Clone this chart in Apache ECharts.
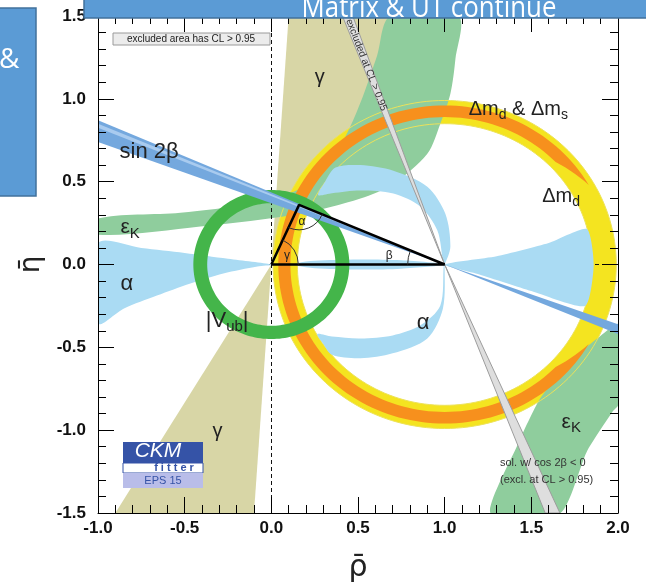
<!DOCTYPE html>
<html>
<head>
<meta charset="utf-8">
<script src="https://cdn.jsdelivr.net/npm/echarts@6.0.0/dist/echarts.min.js"></script>
<style>
  html, body { margin: 0; padding: 0; background: #fff; }
  #chart { width: 646px; height: 588px; }
</style>
</head>
<body>
<div id="chart"></div>
<script>
// tick labels
const rhoTicks = ['-1.0', '-0.5', '0.0', '0.5', '1.0', '1.5', '2.0'];
const etaTicks = ['-1.5', '-1.0', '-0.5', '0.0', '0.5', '1.0', '1.5'];

// constraint regions, [rho, eta] points
const gammaUp = [[0, 0], [0.1, 1.5], [0.9, 1.5]];
const gammaDown = [[0, 0], [-0.9, -1.5], [-0.1, -1.5]];

const epsKUp = [[-1.0, 0.277], [-0.525, 0.313], [-0.121, 0.367], [0.167, 0.458], [0.35, 0.64],
  [0.45, 0.82], [0.53, 1.02], [0.61, 1.26], [0.687, 1.5], [1.079, 1.5], [1.062, 1.24], [1.033, 1.03],
  [0.975, 0.85], [0.9, 0.669], [0.704, 0.488], [0.514, 0.398], [0.167, 0.307], [-0.41, 0.229], [-1.0, 0.18]];
const epsKDown = [[1.264, -1.5], [1.42, -1.09], [1.55, -0.81], [1.74, -0.57], [1.9, -0.43], [2.0, -0.36],
  [2.0, -0.85], [1.97, -0.886], [1.82, -1.13], [1.668, -1.5]];

const alphaLeft = [[-1, 0.127], [-0.75, 0.1], [-0.5, 0.07], [-0.25, 0.035], [0, 0], [-0.08, -0.012],
  [-0.277, -0.054], [-0.467, -0.114], [-0.66, -0.187], [-0.85, -0.265], [-1, -0.355]];
const alphaBase = [[0.15, 0.008], [0.25, 0.022], [0.5, 0.03], [0.75, 0.025], [1, 0], [0.75, -0.025], [0.5, -0.03],
  [0.25, -0.022], [0.15, -0.008]];
const alphaRight = [[1, 0], [1.3, 0.05], [1.6, 0.13], [1.82, 0.215], [1.86, 0], [1.81, -0.25], [1.5, -0.16], [1.2, -0.06]];
const alphaUpper = [[0.37, 0.585], [0.514, 0.6], [0.704, 0.566], [0.9, 0.47], [1.004, 0.307],
  [1.033, 0.108], [1.0, 0.0], [0.992, 0.012], [0.958, 0.205], [0.86, 0.349], [0.704, 0.428], [0.514, 0.446],
  [0.35, 0.43], [0.27, 0.42], [0.31, 0.5]];
const alphaLower = [[1.0, 0], [0.99, -0.265], [0.9, -0.446], [0.7, -0.536], [0.514, -0.566], [0.35, -0.545],
  [0.3, -0.48], [0.265, -0.42], [0.35, -0.435], [0.514, -0.446], [0.7, -0.428], [0.86, -0.367], [0.975, -0.247],
  [0.995, 0]];

const sin2bUp = [[1, 0], [-1, 0.87], [-1, 0.74]];
const sin2bDown = [[1, 0], [2, -0.42], [2, -0.36]];
const sin2bCore = [[1, 0], [-1, 0.85], [-1, 0.825]];
const cos2bUp = [[1, 0], [0.41, 1.5], [0.47, 1.5]];
const cos2bDown = [[1, 0], [1.58, -1.5], [1.665, -1.5]];

// rings: centre rho, centre eta, inner radius, outer radius
const dmdRing = [1, 0, 0.85, 0.99];
const dmsRing = [1, 0, 0.89, 0.96];
const dmsEnds = [30, 330];
const vubRing = [0, 0, 0.37, 0.45];

const apex = [0.16, 0.36];
const triangle = [[0, 0], apex, [1, 0], [0, 0]];

// labels
const labelTexts = ['γ', 'γ', 'sin 2β', 'ε{s|K}', 'α', '|V{s|ub}|', 'α', 'Δm{s|d} & Δm{s|s}', 'Δm{s|d}', 'ε{s|K}'];
const labelRho = [0.28, -0.31, -0.705, -0.815, -0.833, -0.255, 0.875, 1.425, 1.672, 1.73];
const labelEta = [1.13, -1.01, 0.68, 0.223, -0.12, -0.343, -0.35, 0.934, 0.41, -0.952];
const labelSize = [20, 20, 22, 21, 22, 22, 22, 20, 20, 21];
const angleTexts = ['α', 'β', 'γ'];
const angleRho = [0.177, 0.68, 0.09];
const angleEta = [0.26, 0.054, 0.054];

const chart = echarts.init(document.getElementById('chart'));

function area(points, color, z, smooth, stroke) {
  return {
    type: 'custom', coordinateSystem: 'cartesian2d', silent: true, z, clip: true,
    data: [points[0]],
    renderItem: (params, api) => ({
      type: 'polygon',
      shape: { points: points.map(p => api.coord(p)), smooth: smooth || 0 },
      style: { fill: color, stroke: stroke || null, lineWidth: stroke ? 1 : 0 },
    }),
  };
}

function ringPoints(api, cx, cy, r, a0, a1) {
  const pts = [];
  for (let a = a0; a <= a1 + 0.001; a += 2) {
    const t = a * Math.PI / 180;
    pts.push(api.coord([cx + r * Math.cos(t), cy + r * Math.sin(t)]));
  }
  return pts;
}

function ring(r, color, z, ends, taper) {
  const [cx, cy, r0, r1] = r;
  return {
    type: 'custom', coordinateSystem: 'cartesian2d', silent: true, z, clip: true,
    data: [[cx, cy]],
    renderItem: (params, api) => {
      const a0 = ends ? ends[0] : 0;
      const a1 = ends ? ends[1] : 360;
      const outer = [];
      const inner = [];
      for (let a = a0; a <= a1 + 0.001; a += 2) {
        const t = a * Math.PI / 180;
        let ri = r0;
        if (taper) {
          const d = Math.min(a - a0, a1 - a);
          if (d < taper) ri = r1 - (r1 - r0) * d / taper;
        }
        outer.push(api.coord([cx + r1 * Math.cos(t), cy + r1 * Math.sin(t)]));
        inner.unshift(api.coord([cx + ri * Math.cos(t), cy + ri * Math.sin(t)]));
      }
      return { type: 'polygon', shape: { points: outer.concat(inner) }, style: { fill: color } };
    },
  };
}

// thin contour lines on the edges of a ring
function ringEdges(r, color, z) {
  const [cx, cy, r0, r1] = r;
  return {
    type: 'custom', coordinateSystem: 'cartesian2d', silent: true, z, clip: true,
    data: [[cx, cy]],
    renderItem: (params, api) => ({
      type: 'group',
      children: [r0, r1].map(rr => ({
        type: 'polygon',
        shape: { points: ringPoints(api, cx, cy, rr, 0, 358) },
        style: { fill: null, stroke: color, lineWidth: 1 },
      })),
    }),
  };
}

const labelFont = 'Liberation Sans, Arial, sans-serif';

function textSeries(texts, rhos, etas, sizes, z) {
  return {
    type: 'custom', coordinateSystem: 'cartesian2d', silent: true, z,
    data: texts.map((t, i) => [rhos[i], etas[i]]),
    renderItem: (params, api) => {
      const p = api.coord([api.value(0), api.value(1)]);
      const size = Array.isArray(sizes) ? sizes[params.dataIndex] : sizes;
      return {
        type: 'text', x: p[0], y: p[1],
        style: {
          text: texts[params.dataIndex], fill: '#222', font: size + 'px ' + labelFont,
          align: 'center', verticalAlign: 'middle',
          rich: { s: { fontSize: Math.round(size * 0.7), fontFamily: labelFont, fill: '#222', padding: [Math.round(size * 0.55), 0, 0, 0] } },
        },
      };
    },
  };
}

// angle arcs of the triangle
const arcRadius = [25, 37, 27];
const arcSeries = {
  type: 'custom', coordinateSystem: 'cartesian2d', silent: true, z: 24,
  data: [apex, [1, 0], [0, 0]],
  renderItem: (params, api) => {
    const verts = [apex, [1, 0], [0, 0]];
    const i = params.dataIndex;
    const v = api.coord(verts[i]);
    const a = api.coord(verts[(i + 1) % 3]);
    const b = api.coord(verts[(i + 2) % 3]);
    const t1 = Math.atan2(a[1] - v[1], a[0] - v[0]);
    let d = Math.atan2(b[1] - v[1], b[0] - v[0]) - t1;
    while (d > Math.PI) d -= 2 * Math.PI;
    while (d < -Math.PI) d += 2 * Math.PI;
    return {
      type: 'arc',
      shape: { cx: v[0], cy: v[1], r: arcRadius[i], startAngle: t1, endAngle: t1 + d, clockwise: d > 0 },
      style: { stroke: '#333', lineWidth: 1, fill: null },
    };
  },
};

const excludedLabel = {
  type: 'custom', coordinateSystem: 'cartesian2d', silent: true, z: 23,
  data: [cos2bUp[0]],
  renderItem: (params, api) => {
    const p1 = api.coord([(cos2bUp[1][0] + cos2bUp[2][0]) / 2, 1.5]);
    const p0 = api.coord(cos2bUp[0]);
    const ang = Math.atan2(p0[1] - p1[1], p0[0] - p1[0]);
    const c = api.coord([0.548, 1.205]);
    return {
      type: 'text', x: c[0], y: c[1], rotation: -ang,
      style: { text: 'excluded at CL > 0.95', font: '10px ' + labelFont, fill: '#333', align: 'center', verticalAlign: 'middle' },
    };
  },
};

const tickStyle = { color: '#000', width: 1 };
function xAx(pos) {
  return {
    type: 'value', min: -1, max: 2, interval: 0.5, position: pos, z: 40,
    axisLine: { show: true, onZero: false, lineStyle: tickStyle },
    axisTick: { show: true, inside: true, length: 16, lineStyle: tickStyle },
    minorTick: { show: true, splitNumber: 5, length: 8, lineStyle: tickStyle },
    splitLine: { show: false },
    axisLabel: pos === 'bottom' ? {
      fontFamily: labelFont, fontWeight: 'bold', fontSize: 17, color: '#111', margin: 7,
      formatter: v => rhoTicks[Math.round((v + 1) * 2)],
    } : { show: false },
    name: pos === 'bottom' ? 'ρ̄' : '', nameLocation: 'middle', nameGap: 40,
    nameTextStyle: { fontSize: 30, fontFamily: 'DejaVu Sans', color: '#222' },
  };
}
function yAx(pos) {
  return {
    type: 'value', min: -1.5, max: 1.5, interval: 0.5, position: pos, z: 40,
    axisLine: { show: true, onZero: false, lineStyle: tickStyle },
    axisTick: { show: true, inside: true, length: 16, lineStyle: tickStyle },
    minorTick: { show: true, splitNumber: 5, length: 8, lineStyle: tickStyle },
    splitLine: { show: false },
    axisLabel: pos === 'left' ? {
      fontFamily: labelFont, fontWeight: 'bold', fontSize: 17, color: '#111', margin: 12,
      formatter: v => etaTicks[Math.round((v + 1.5) * 2)],
    } : { show: false },
    name: pos === 'left' ? 'η̄' : '', nameLocation: 'middle', nameGap: 47, nameRotate: 90,
    nameTextStyle: { fontSize: 28, fontFamily: 'DejaVu Sans', color: '#222' },
  };
}

chart.setOption({
  animation: false,
  grid: { left: 98, right: 28, top: 16, bottom: 74, show: false },
  xAxis: [xAx('bottom'), xAx('top')],
  yAxis: [yAx('left'), yAx('right')],
  series: [
    area(gammaUp, '#d8d6a6', 2),
    area(gammaDown, '#d8d6a6', 2),
    ring(dmdRing, '#f4e420', 3),
    area(epsKUp, '#8fcd9d', 4, 0.3),
    area(epsKDown, '#8fcd9d', 4, 0.2),
    ringEdges(dmdRing, '#ece25a', 4),
    area(alphaLeft, '#aadbf3', 5, 0.3),
    area(alphaBase, '#aadbf3', 5, 0.3),
    area(alphaRight, '#aadbf3', 5, 0.2),
    area(alphaUpper, '#aadbf3', 5, 0.3),
    area(alphaLower, '#aadbf3', 5, 0.3),
    ring(dmsRing, '#f7901d', 6, dmsEnds, 14),
    ring(vubRing, '#44b54a', 7),
    area(sin2bUp, '#74a8de', 8),
    area(sin2bDown, '#74a8de', 8),
    area(sin2bCore, '#a9cbef', 8),
    area(cos2bUp, '#dedede', 9, 0, '#9c9c9c'),
    area(cos2bDown, '#dedede', 9, 0, '#9c9c9c'),
    {
      type: 'line', data: [], silent: true, z: 20,
      markLine: {
        silent: true, symbol: 'none', label: { show: false },
        lineStyle: { color: '#111', type: [4, 3], width: 1 },
        data: [{ xAxis: 0 }, { yAxis: 0 }],
      },
    },
    {
      type: 'line', data: triangle, symbol: 'none', silent: true, z: 22,
      lineStyle: { color: '#000', width: 2.5 },
    },
    arcSeries,
    excludedLabel,
    textSeries(labelTexts, labelRho, labelEta, labelSize, 25),
    textSeries(angleTexts, angleRho, angleEta, 12, 25),
  ],
  graphic: [
    { type: 'rect', z: 100, shape: { x: 113, y: 33, width: 157, height: 12 }, style: { fill: '#ececec', stroke: '#9a9a9a', lineWidth: 1 } },
    { type: 'text', z: 101, x: 191, y: 39.5, style: { text: 'excluded area has CL > 0.95', font: '10px ' + labelFont, fill: '#222', align: 'center', verticalAlign: 'middle' } },
    { type: 'text', z: 101, x: 500, y: 463, style: { text: 'sol. w/ cos 2β < 0', font: '11px ' + labelFont, fill: '#333', align: 'left', verticalAlign: 'middle' } },
    { type: 'text', z: 101, x: 500, y: 480, style: { text: '(excl. at CL > 0.95)', font: '11px ' + labelFont, fill: '#333', align: 'left', verticalAlign: 'middle' } },
    { type: 'rect', z: 100, shape: { x: 123, y: 442, width: 80, height: 21 }, style: { fill: '#3553a7' } },
    { type: 'rect', z: 100, shape: { x: 123, y: 463, width: 80, height: 10 }, style: { fill: '#fff', stroke: '#3553a7', lineWidth: 1 } },
    { type: 'rect', z: 100, shape: { x: 123, y: 473, width: 80, height: 15 }, style: { fill: '#b9bde9' } },
    { type: 'text', z: 101, x: 158, y: 451, style: { text: 'CKM', font: 'italic 21px ' + labelFont, fill: '#fff', align: 'center', verticalAlign: 'middle' } },
    { type: 'text', z: 101, x: 174, y: 468, style: { text: 'f i t t e r', font: 'bold 11px ' + labelFont, fill: '#3553a7', align: 'center', verticalAlign: 'middle' } },
    { type: 'text', z: 101, x: 163, y: 481, style: { text: 'EPS 15', font: '11px ' + labelFont, fill: '#3553a7', align: 'center', verticalAlign: 'middle' } },
    // slide overlays
    { type: 'rect', z: 110, shape: { x: 84, y: -10, width: 570, height: 28 }, style: { fill: '#5b9bd5', stroke: '#41719c', lineWidth: 1.5 } },
    { type: 'text', z: 111, x: 429, y: 23, scaleX: 0.86, style: { text: 'Matrix & UT continue', font: '30px Open Sans, sans-serif', fill: '#fff', align: 'center', verticalAlign: 'bottom' } },
    { type: 'rect', z: 110, shape: { x: -2, y: 8, width: 38, height: 188 }, style: { fill: '#5b9bd5', stroke: '#41719c', lineWidth: 1.5 } },
    { type: 'text', z: 111, x: -1, y: 60, style: { text: '&', font: '28px Open Sans, sans-serif', fill: '#fff', align: 'left', verticalAlign: 'middle' } },
  ],
});
</script>
</body>
</html>
